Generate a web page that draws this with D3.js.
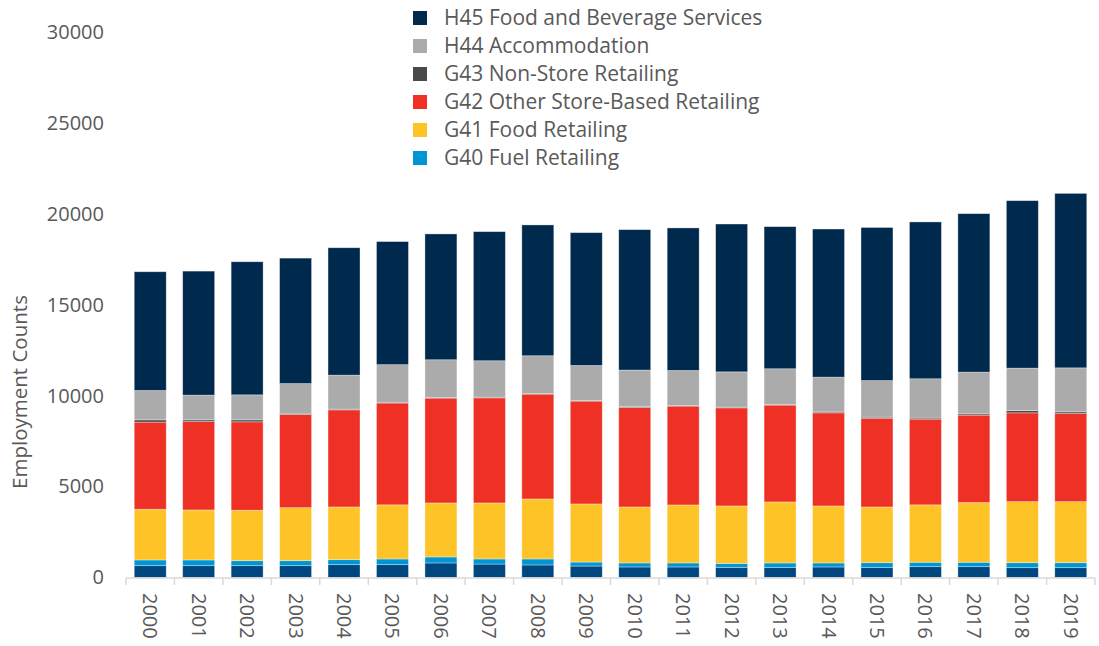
<!DOCTYPE html>
<html>
<head>
<meta charset="utf-8">
<script src="https://cdn.jsdelivr.net/npm/d3@7"></script>
<style>
  body { margin: 0; background: #fff; }
  text { font-family: "Open Sans", sans-serif; fill: #595959; }
</style>
</head>
<body>
<div id="chart"></div>
<script>
var years = ['2000', '2001', '2002', '2003', '2004', '2005', '2006', '2007', '2008', '2009',
             '2010', '2011', '2012', '2013', '2014', '2015', '2016', '2017', '2018', '2019'];

// stacked bottom to top
var seriesKeys = ['G39', 'G40', 'G41', 'G42', 'G43', 'H44', 'H45'];
var seriesNames = {
  G39: 'G39 Motor Vehicle and Parts Retailing',
  G40: 'G40 Fuel Retailing',
  G41: 'G41 Food Retailing',
  G42: 'G42 Other Store-Based Retailing',
  G43: 'G43 Non-Store Retailing',
  H44: 'H44 Accommodation',
  H45: 'H45 Food and Beverage Services'
};
var legendKeys = ['H45', 'H44', 'G43', 'G42', 'G41', 'G40'];

var g39 = [650, 650, 650, 650, 705, 705, 800, 740, 690, 630, 580, 580, 560, 560, 580, 560, 595, 595, 540, 540];
var g40 = [315, 315, 275, 275, 275, 315, 330, 280, 330, 220, 220, 220, 215, 240, 220, 255, 245, 245, 275, 275];
var g41 = [2790, 2750, 2775, 2915, 2900, 2975, 2970, 3080, 3300, 3195, 3080, 3190, 3160, 3355, 3135, 3065, 3155, 3280, 3355, 3355];
var g42 = [4790, 4860, 4860, 5120, 5340, 5600, 5765, 5780, 5765, 5655, 5470, 5435, 5395, 5325, 5120, 4880, 4715, 4810, 4885, 4845];
var g43 = [125, 95, 110, 35, 40, 40, 40, 40, 40, 40, 40, 40, 40, 40, 50, 60, 60, 70, 125, 95];
var h44 = [1615, 1360, 1375, 1670, 1870, 2070, 2070, 2000, 2070, 1920, 2020, 1920, 1940, 1960, 1915, 2010, 2160, 2295, 2335, 2420];
var h45 = [6530, 6820, 7320, 6900, 7005, 6770, 6920, 7100, 7195, 7305, 7720, 7840, 8130, 7815, 8145, 8420, 8625, 8715, 9210, 9595];

var yTicks = [0, 5000, 10000, 15000, 20000, 25000, 30000];

var color = d3.scaleOrdinal()
    .domain(seriesKeys)
    .range(['#00467f', '#0096d6', '#fec327', '#ef3125', '#4a4a4a', '#ababab', '#002a4d']);

var width = 1099, height = 646;

var svg = d3.select('#chart').append('svg')
    .attr('width', width)
    .attr('height', height);

var x = d3.scaleBand()
    .domain(years)
    .range([126, 1095])
    .paddingInner(0.34)
    .paddingOuter(0.17);

var y = d3.scaleLinear()
    .domain([0, 30000])
    .range([577.5, 32]);

// build rows for the stack
var cols = { G39: g39, G40: g40, G41: g41, G42: g42, G43: g43, H44: h44, H45: h45 };
var data = years.map(function(yr, i) {
  var row = { year: yr };
  seriesKeys.forEach(function(k) { row[k] = cols[k][i]; });
  return row;
});

var stacked = d3.stack().keys(seriesKeys)(data);

var groups = svg.selectAll('.series')
    .data(stacked)
  .enter().append('g')
    .attr('class', 'series')
    .style('fill', function(d) { return color(d.key); });

groups.selectAll('rect')
    .data(function(d) { return d; })
  .enter().append('rect')
    .attr('x', function(d) { return x(d.data.year); })
    .attr('y', function(d) { return y(d[1]); })
    .attr('width', x.bandwidth())
    .attr('height', function(d) { return y(d[0]) - y(d[1]); })
    .style('stroke', 'rgba(255,255,255,0.45)')
    .style('stroke-width', 0.75);

// y axis labels only
var yAxis = svg.append('g')
    .attr('transform', 'translate(126,0)')
    .call(d3.axisLeft(y).tickValues(yTicks).tickSize(0).tickPadding(22).tickFormat(d3.format('d')));
yAxis.select('.domain').remove();
yAxis.selectAll('text')
    .style('font-size', '20px')
    .style('fill', '#595959');

// x axis line and separators
var axisY = y(0) + 0.5;
svg.append('line')
    .attr('x1', x.range()[0]).attr('x2', x.range()[1])
    .attr('y1', axisY).attr('y2', axisY)
    .style('stroke', '#d9d9d9').style('stroke-width', 1.5);

var edges = years.map(function(d) { return x(d) - (x.step() - x.bandwidth()) / 2; });
edges.push(x.range()[1]);
svg.selectAll('.sep')
    .data(edges)
  .enter().append('line')
    .attr('class', 'sep')
    .attr('x1', function(d) { return d; }).attr('x2', function(d) { return d; })
    .attr('y1', axisY).attr('y2', axisY + 7)
    .style('stroke', '#d9d9d9').style('stroke-width', 1.5);

// year labels rotated
svg.selectAll('.yearLabel')
    .data(years)
  .enter().append('text')
    .attr('class', 'yearLabel')
    .attr('transform', function(d) {
      return 'translate(' + (x(d) + x.bandwidth() / 2 - 7) + ',593) rotate(90)';
    })
    .style('font-size', '20px')
    .text(function(d) { return d; });

// y title
svg.append('text')
    .attr('transform', 'translate(27,392) rotate(-90)')
    .attr('text-anchor', 'middle')
    .style('font-size', '20.5px')
    .text('Employment Counts');

// legend
var legend = svg.selectAll('.legend')
    .data(legendKeys)
  .enter().append('g')
    .attr('class', 'legend')
    .attr('transform', function(d, i) { return 'translate(413,' + (18 + i * 28) + ')'; });

legend.append('rect')
    .attr('x', 0).attr('y', -7)
    .attr('width', 14).attr('height', 14)
    .style('fill', function(d) { return color(d); });

legend.append('text')
    .attr('x', 31)
    .attr('dy', '0.35em')
    .style('font-size', '21px')
    .text(function(d) { return seriesNames[d]; });
</script>
</body>
</html>
